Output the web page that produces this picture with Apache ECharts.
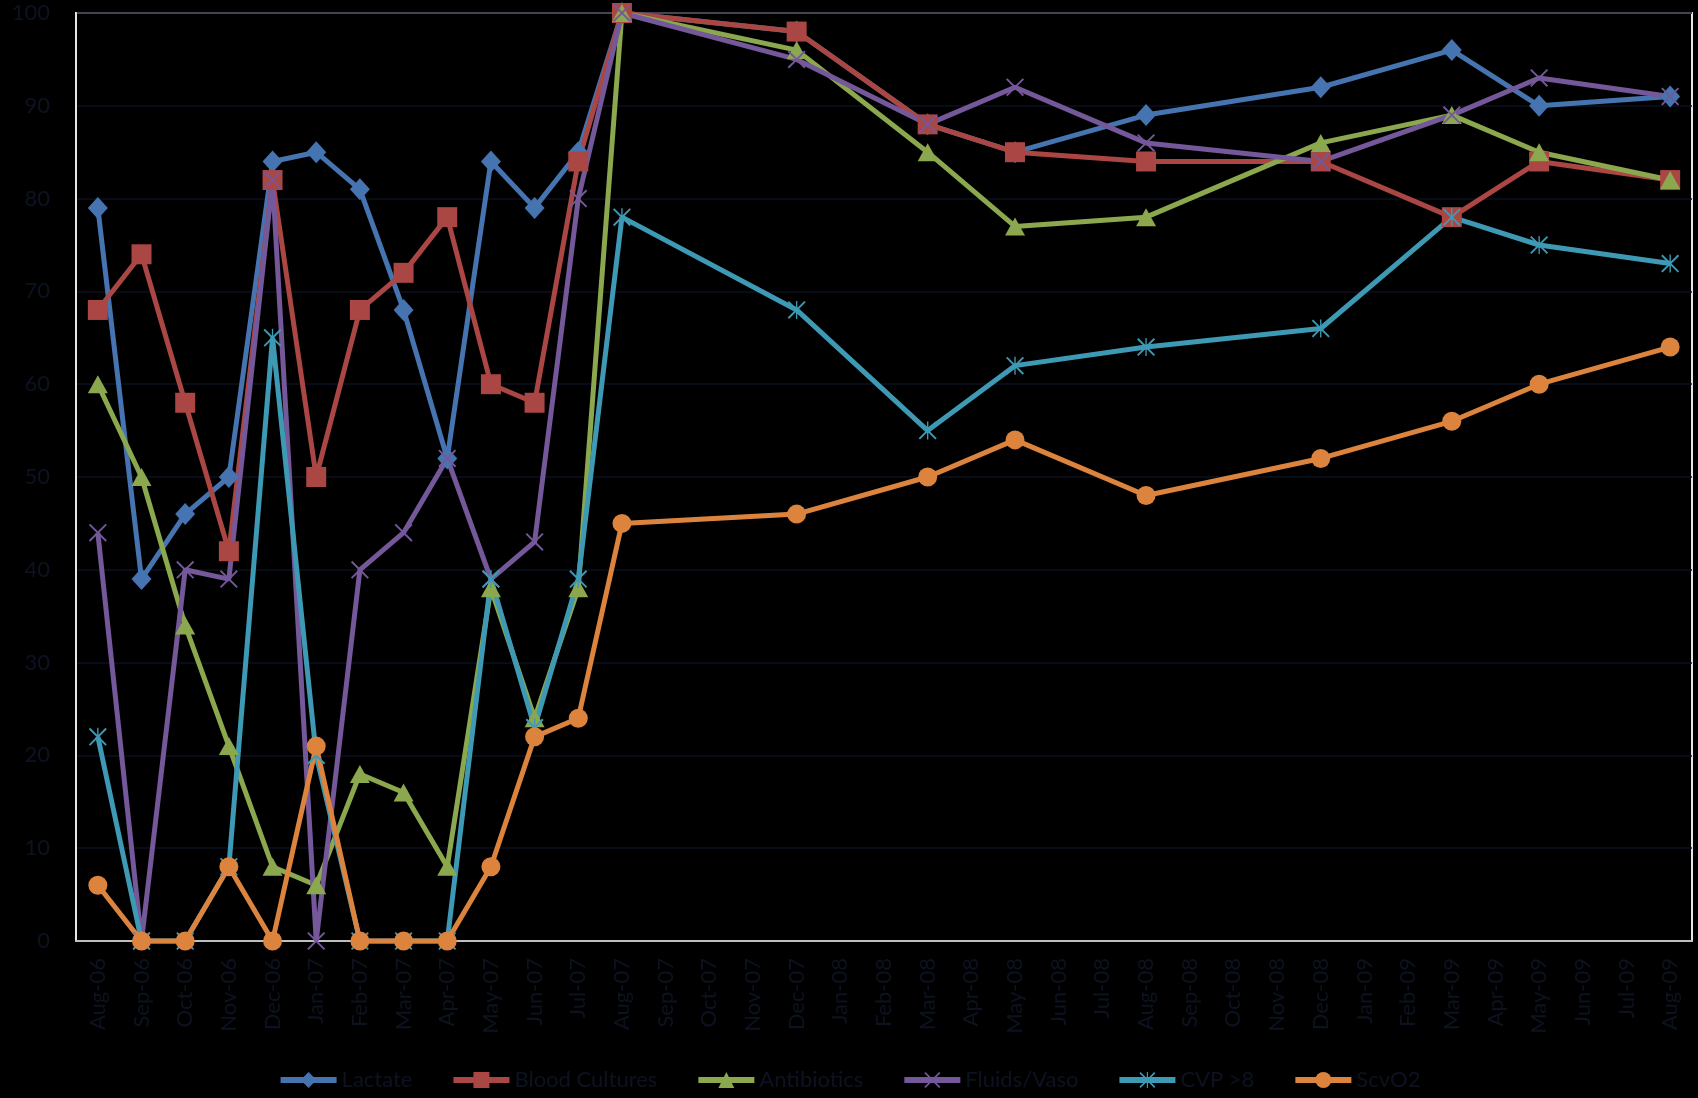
<!DOCTYPE html>
<html>
<head>
<meta charset="utf-8">
<title>Sepsis bundle compliance</title>
<script src="https://cdn.jsdelivr.net/npm/echarts@6/dist/echarts.min.js"></script>
<style>
  html, body { margin: 0; padding: 0; background: #000; }
  #chart { width: 1698px; height: 1098px; }
</style>
</head>
<body>
<div id="chart"></div>
<script>
// Month tick labels along the category axis
const months = [
  'Aug-06','Sep-06','Oct-06','Nov-06','Dec-06','Jan-07','Feb-07','Mar-07','Apr-07',
  'May-07','Jun-07','Jul-07','Aug-07','Sep-07','Oct-07','Nov-07','Dec-07','Jan-08',
  'Feb-08','Mar-08','Apr-08','May-08','Jun-08','Jul-08','Aug-08','Sep-08','Oct-08',
  'Nov-08','Dec-08','Jan-09','Feb-09','Mar-09','Apr-09','May-09','Jun-09','Jul-09','Aug-09'
];

// Months in which compliance was measured
const sampleMonths = [
  'Aug-06','Sep-06','Oct-06','Nov-06','Dec-06','Jan-07','Feb-07','Mar-07','Apr-07',
  'May-07','Jun-07','Jul-07','Aug-07','Dec-07','Mar-08','May-08','Aug-08','Dec-08',
  'Mar-09','May-09','Aug-09'
];

// Compliance (%) per bundle element
const lactate        = [79, 39, 46, 50, 84, 85, 81, 68, 52, 84, 79, 85, 100, 98, 88, 85, 89, 92, 96, 90, 91];
const bloodCultures  = [68, 74, 58, 42, 82, 50, 68, 72, 78, 60, 58, 84, 100, 98, 88, 85, 84, 84, 78, 84, 82];
const antibiotics    = [60, 50, 34, 21, 8, 6, 18, 16, 8, 38, 24, 38, 100, 96, 85, 77, 78, 86, 89, 85, 82];
const fluidsVaso     = [44, 0, 40, 39, 82, 0, 40, 44, 52, 39, 43, 80, 100, 95, 88, 92, 86, 84, 89, 93, 91];
const cvp            = [22, 0, 0, 8, 65, 20, 0, 0, 0, 39, 23, 39, 78, 68, 55, 62, 64, 66, 78, 75, 73];
const scvo2          = [6, 0, 0, 8, 0, 21, 0, 0, 0, 8, 22, 24, 45, 46, 50, 54, 48, 52, 56, 60, 64];

const yTicks = { min: 0, max: 100, interval: 10 };

// Thin-stroke marker shapes built as filled paths
const crossPath = 'path://M0,1.5L1.5,0L20,18.5L18.5,20Z M18.5,0L20,1.5L1.5,20L0,18.5Z';
const starPath  = 'path://M0,1.5L1.5,0L20,18.5L18.5,20Z M18.5,0L20,1.5L1.5,20L0,18.5Z M9.25,0L10.75,0L10.75,20L9.25,20Z';

const textColor = '#0c1220';
const fontFamily = 'Lato, "Open Sans", sans-serif';

function pairs(values) {
  return sampleMonths.map((m, i) => [m, values[i]]);
}

function makeSeries(name, values, color, symbol, size) {
  return {
    name: name,
    type: 'line',
    data: pairs(values),
    symbol: symbol,
    symbolSize: size,
    showAllSymbol: true,
    connectNulls: true,
    clip: false,
    lineStyle: { color: color, width: 5 },
    itemStyle: { color: color, borderWidth: 0 },
    emphasis: { disabled: true },
    animation: false
  };
}

const chart = echarts.init(document.getElementById('chart'), null, { renderer: 'canvas' });

chart.setOption({
  backgroundColor: '#000000',
  animation: false,
  grid: {
    left: 76, right: 6, top: 13, bottom: 157,
    show: true,
    borderColor: '#e6e6e6',
    borderWidth: 2,
    containLabel: false
  },
  xAxis: {
    type: 'category',
    data: months,
    boundaryGap: true,
    axisLine: { show: true, lineStyle: { color: '#bfbfbf', width: 2 } },
    axisTick: { show: false },
    axisLabel: {
      rotate: 90,
      interval: 0,
      margin: 17,
      color: textColor,
      fontSize: 22,
      fontFamily: fontFamily
    },
    splitLine: { show: false }
  },
  yAxis: {
    type: 'value',
    min: yTicks.min,
    max: yTicks.max,
    interval: yTicks.interval,
    axisLine: { show: true, lineStyle: { color: '#e6e6e6', width: 2 } },
    axisTick: { show: false },
    axisLabel: {
      margin: 26,
      color: textColor,
      fontSize: 22,
      fontFamily: fontFamily
    },
    splitLine: { show: true, lineStyle: { color: '#0b1120', width: 1.5 } }
  },
  legend: {
    bottom: 2,
    left: 'center',
    itemWidth: 56,
    itemHeight: 20,
    itemGap: 38,
    lineStyle: { width: 6 },
    textStyle: { color: textColor, fontSize: 22, fontFamily: fontFamily },
    data: ['Lactate', 'Blood Cultures', 'Antibiotics', 'Fluids/Vaso', 'CVP >8', 'ScvO2']
  },
  series: [
    makeSeries('Lactate', lactate, '#4674B0', 'diamond', [20, 22]),
    makeSeries('Blood Cultures', bloodCultures, '#AA4643', 'rect', 20),
    makeSeries('Antibiotics', antibiotics, '#8BA84E', 'triangle', [20, 18]),
    makeSeries('Fluids/Vaso', fluidsVaso, '#74589A', crossPath, 18),
    makeSeries('CVP >8', cvp, '#3E99B4', starPath, 18),
    makeSeries('ScvO2', scvo2, '#DC843D', 'circle', 19)
  ]
});
</script>
</body>
</html>
